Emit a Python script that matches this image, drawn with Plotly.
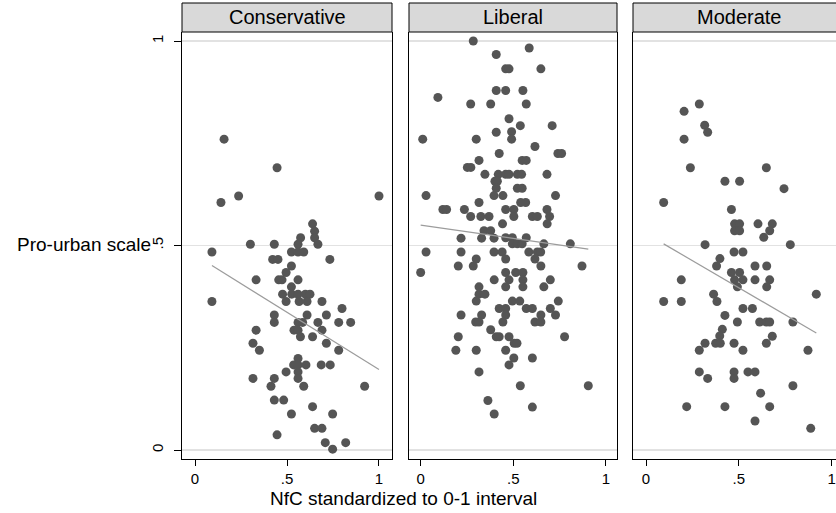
import plotly.graph_objects as go

panels = ["Conservative", "Liberal", "Moderate"]

cons_x = [0.158, 0.446, 0.141, 0.237, 1.000, 0.639, 0.650, 0.650, 0.574, 0.560, 0.668, 0.301, 0.431,
          0.092, 0.524, 0.560, 0.591, 0.422, 0.451, 0.733, 0.524, 0.495, 0.332, 0.455, 0.473, 0.560,
          0.524, 0.476, 0.526, 0.560, 0.600, 0.625, 0.092, 0.495, 0.566, 0.609, 0.690, 0.799,
          0.431, 0.609, 0.714, 0.431, 0.560, 0.585, 0.668, 0.781, 0.846, 0.332, 0.538, 0.560, 0.690,
          0.573, 0.639, 0.315, 0.714, 0.350, 0.781, 0.560, 0.536, 0.560, 0.603, 0.686, 0.735,
          0.495, 0.560, 0.315, 0.431, 0.560, 0.413, 0.591, 0.922, 0.431, 0.482, 0.639, 0.524, 0.748,
          0.650, 0.690, 0.446, 0.708, 0.819, 0.748]
cons_y = [0.760, 0.690, 0.605, 0.621, 0.621, 0.553, 0.535, 0.519, 0.519, 0.503, 0.503, 0.503, 0.503,
          0.484, 0.484, 0.484, 0.484, 0.466, 0.466, 0.466, 0.450, 0.434, 0.416, 0.416, 0.416, 0.416,
          0.399, 0.381, 0.381, 0.381, 0.381, 0.381, 0.363, 0.363, 0.363, 0.363, 0.363, 0.346,
          0.330, 0.330, 0.330, 0.312, 0.312, 0.312, 0.312, 0.312, 0.312, 0.293, 0.293, 0.293, 0.293,
          0.277, 0.277, 0.261, 0.261, 0.244, 0.244, 0.224, 0.208, 0.208, 0.208, 0.208, 0.208,
          0.191, 0.191, 0.175, 0.175, 0.175, 0.156, 0.156, 0.156, 0.122, 0.122, 0.106, 0.088, 0.088,
          0.053, 0.053, 0.037, 0.018, 0.018, 0.002]

lib_x = [0.284, 0.586, 0.408, 0.459, 0.477, 0.649, 0.408, 0.459, 0.552, 0.093, 0.270, 0.378, 0.570,
         0.477, 0.538, 0.710, 0.408, 0.491, 0.011, 0.300, 0.491, 0.617, 0.424, 0.741, 0.761,
         0.315, 0.548, 0.570, 0.252, 0.271, 0.347, 0.419, 0.459, 0.477, 0.522, 0.545, 0.682,
         0.401, 0.414, 0.408, 0.522, 0.548, 0.029, 0.396, 0.444, 0.728, 0.315, 0.540, 0.567,
         0.120, 0.140, 0.236, 0.459, 0.503, 0.682, 0.270, 0.325, 0.369, 0.503, 0.603, 0.630, 0.696,
         0.442, 0.683, 0.342, 0.378, 0.218, 0.329, 0.396, 0.459, 0.495, 0.570,
         0.495, 0.522, 0.548, 0.665, 0.808, 0.029, 0.218, 0.396, 0.440, 0.584, 0.630, 0.648,
         0.300, 0.459, 0.617, 0.203, 0.284, 0.649, 0.871, 0.000, 0.459, 0.513, 0.552,
         0.397, 0.477, 0.552, 0.700, 0.315, 0.459, 0.552, 0.665, 0.315, 0.347,
         0.300, 0.495, 0.535, 0.743, 0.424, 0.459, 0.570, 0.603, 0.700,
         0.218, 0.329, 0.459, 0.649, 0.728, 0.297, 0.315, 0.444, 0.617, 0.649, 0.378,
         0.203, 0.408, 0.424, 0.477, 0.777, 0.505, 0.520, 0.190, 0.300, 0.459, 0.503, 0.603,
         0.477, 0.315, 0.538, 0.905, 0.363, 0.603, 0.397]
lib_y = [1.000, 0.983, 0.967, 0.932, 0.932, 0.932, 0.879, 0.879, 0.879, 0.862, 0.846, 0.846, 0.846,
         0.810, 0.793, 0.793, 0.777, 0.778, 0.760, 0.760, 0.760, 0.742, 0.725, 0.725, 0.725,
         0.708, 0.708, 0.708, 0.691, 0.691, 0.674, 0.674, 0.674, 0.674, 0.674, 0.674, 0.674,
         0.657, 0.657, 0.640, 0.640, 0.640, 0.622, 0.622, 0.622, 0.622, 0.605, 0.605, 0.605,
         0.588, 0.588, 0.588, 0.588, 0.588, 0.588, 0.571, 0.571, 0.571, 0.571, 0.571, 0.571, 0.571,
         0.553, 0.553, 0.536, 0.536, 0.518, 0.518, 0.518, 0.519, 0.519, 0.519,
         0.504, 0.504, 0.504, 0.504, 0.504, 0.484, 0.484, 0.484, 0.484, 0.484, 0.484, 0.484,
         0.467, 0.467, 0.467, 0.450, 0.450, 0.450, 0.450, 0.434, 0.434, 0.434, 0.434,
         0.416, 0.416, 0.416, 0.416, 0.399, 0.399, 0.399, 0.399, 0.381, 0.381,
         0.364, 0.364, 0.364, 0.364, 0.346, 0.346, 0.346, 0.346, 0.346,
         0.330, 0.330, 0.330, 0.330, 0.330, 0.313, 0.313, 0.313, 0.313, 0.313, 0.294,
         0.277, 0.277, 0.277, 0.277, 0.277, 0.261, 0.261, 0.244, 0.244, 0.244, 0.225, 0.225,
         0.208, 0.191, 0.157, 0.157, 0.121, 0.105, 0.088]

mod_x = [0.287, 0.205, 0.316, 0.332, 0.205, 0.239, 0.648, 0.425, 0.504, 0.743, 0.095, 0.460,
         0.477, 0.504, 0.603, 0.680, 0.477, 0.504, 0.666, 0.634, 0.318, 0.777, 0.474, 0.522,
         0.398, 0.380, 0.587, 0.650, 0.460, 0.504, 0.190, 0.477, 0.522, 0.587, 0.666,
         0.492, 0.650, 0.364, 0.917, 0.095, 0.190, 0.382, 0.522, 0.573, 0.425,
         0.492, 0.612, 0.648, 0.666, 0.791, 0.411, 0.397, 0.680, 0.318, 0.375, 0.400, 0.474, 0.648,
         0.287, 0.522, 0.872, 0.287, 0.474, 0.549, 0.587, 0.332, 0.474, 0.791, 0.617,
         0.219, 0.425, 0.666, 0.587, 0.887]
mod_y = [0.846, 0.828, 0.794, 0.777, 0.760, 0.690, 0.690, 0.657, 0.657, 0.639, 0.605, 0.588,
         0.553, 0.553, 0.553, 0.553, 0.536, 0.536, 0.536, 0.520, 0.502, 0.502, 0.484, 0.484,
         0.468, 0.450, 0.450, 0.450, 0.434, 0.434, 0.416, 0.416, 0.416, 0.416, 0.416,
         0.399, 0.399, 0.381, 0.381, 0.363, 0.363, 0.363, 0.346, 0.346, 0.329,
         0.313, 0.313, 0.313, 0.313, 0.313, 0.295, 0.279, 0.278, 0.261, 0.261, 0.261, 0.261, 0.261,
         0.244, 0.244, 0.244, 0.191, 0.191, 0.191, 0.191, 0.175, 0.175, 0.157, 0.139,
         0.106, 0.106, 0.106, 0.071, 0.053]

# fitted-line endpoints per panel
fit_x = [[0.092, 1.000], [0.000, 0.905], [0.095, 0.917]]
fit_y = [[0.451, 0.197], [0.550, 0.491], [0.504, 0.286]]

y_ticks = [0, 0.5, 1]
y_ticktext = ["0", ".5", "1"]
x_ticks = [0, 0.5, 1]
x_ticktext = ["0", ".5", "1"]

FONT = "Liberation Sans, Arial, Helvetica, sans-serif"
W, H = 836, 513


def fx(px):
    return px / W


def fy(py):
    return 1 - py / H


# panel geometry (page pixels)
px_dom = [(182, 392), (409, 617), (633, 845)]
x_ranges = [[-0.0707, 1.0707], [-0.063, 1.06], [-0.07, 1.023]]
plot_top, plot_bot = 32, 459
strip_top = 3
y_range = [-0.022, 1.022]

fig = go.Figure()
data = [(cons_x, cons_y), (lib_x, lib_y), (mod_x, mod_y)]
for i, (xs, ys) in enumerate(data):
    sfx = "" if i == 0 else str(i + 1)
    fig.add_trace(go.Scatter(x=xs, y=ys, mode="markers",
                             marker=dict(color="#555555", size=9, line=dict(width=0)),
                             xaxis="x" + sfx, yaxis="y" + sfx, showlegend=False, hoverinfo="skip"))
    fig.add_trace(go.Scatter(x=fit_x[i], y=fit_y[i], mode="lines",
                             line=dict(color="#9c9c9c", width=1.2),
                             xaxis="x" + sfx, yaxis="y" + sfx, showlegend=False, hoverinfo="skip"))

ydom = [fy(plot_bot), fy(plot_top)]
layout = dict(width=W, height=H, margin=dict(l=0, r=0, t=0, b=0),
              paper_bgcolor="white", plot_bgcolor="white",
              font=dict(family=FONT, color="black"), showlegend=False)
shapes = []
annotations = []
for i in range(3):
    sfx = "" if i == 0 else str(i + 1)
    x0, x1 = px_dom[i]
    dom = [fx(x0), min(fx(x1), 1.0)]
    layout["xaxis" + sfx] = dict(domain=dom, range=x_ranges[i], anchor="y" + sfx,
                                 tickvals=x_ticks, ticktext=x_ticktext, ticks="outside", ticklen=6,
                                 tickwidth=1, tickcolor="black", showline=True, linecolor="black",
                                 linewidth=1.2, mirror=False, showgrid=False, zeroline=False,
                                 ticklabelstandoff=0, ticklabeloverflow="allow",
                                 tickfont=dict(size=15, family=FONT, color="black"), fixedrange=True)
    layout["yaxis" + sfx] = dict(domain=ydom, range=y_range, anchor="x" + sfx,
                                 tickvals=y_ticks, ticktext=y_ticktext,
                                 ticks="outside" if i == 0 else "", ticklen=7, tickwidth=1,
                                 tickcolor="black", showticklabels=(i == 0), tickangle=-90,
                                 ticklabelstandoff=5,
                                 showline=True, linecolor="black", linewidth=1.2,
                                 mirror=(i < 2), showgrid=True, gridcolor="#e2e2e2", gridwidth=1.5,
                                 zeroline=False, tickfont=dict(size=15, family=FONT, color="black"),
                                 fixedrange=True)
    shapes.append(dict(type="rect", xref="paper", yref="paper",
                       x0=fx(x0), x1=fx(x1), y0=fy(plot_top), y1=fy(strip_top),
                       fillcolor="#d9d9d9", line=dict(color="black", width=1), layer="above"))
    annotations.append(dict(text=panels[i], xref="paper", yref="paper",
                            x=fx((x0 + x1) / 2), y=fy((strip_top + plot_top) / 2),
                            xanchor="center", yanchor="middle", showarrow=False, borderpad=0,
                            font=dict(size=20, family=FONT, color="black")))

annotations.append(dict(text="Pro-urban scale", xref="paper", yref="paper",
                        x=fx(153), y=fy(244), xanchor="right", yanchor="middle",
                        showarrow=False, font=dict(size=19, family=FONT, color="black")))
annotations.append(dict(text="NfC standardized to 0-1 interval", xref="paper", yref="paper",
                        x=fx(403.5), y=fy(498), xanchor="center", yanchor="middle",
                        showarrow=False, font=dict(size=19, family=FONT, color="black")))
layout["shapes"] = shapes
layout["annotations"] = annotations
fig.update_layout(**layout)
fig.write_html("out.html", config={"displayModeBar": False, "staticPlot": True},
               post_script="document.body.style.margin='0';"
                           "document.documentElement.style.overflow='hidden';")
